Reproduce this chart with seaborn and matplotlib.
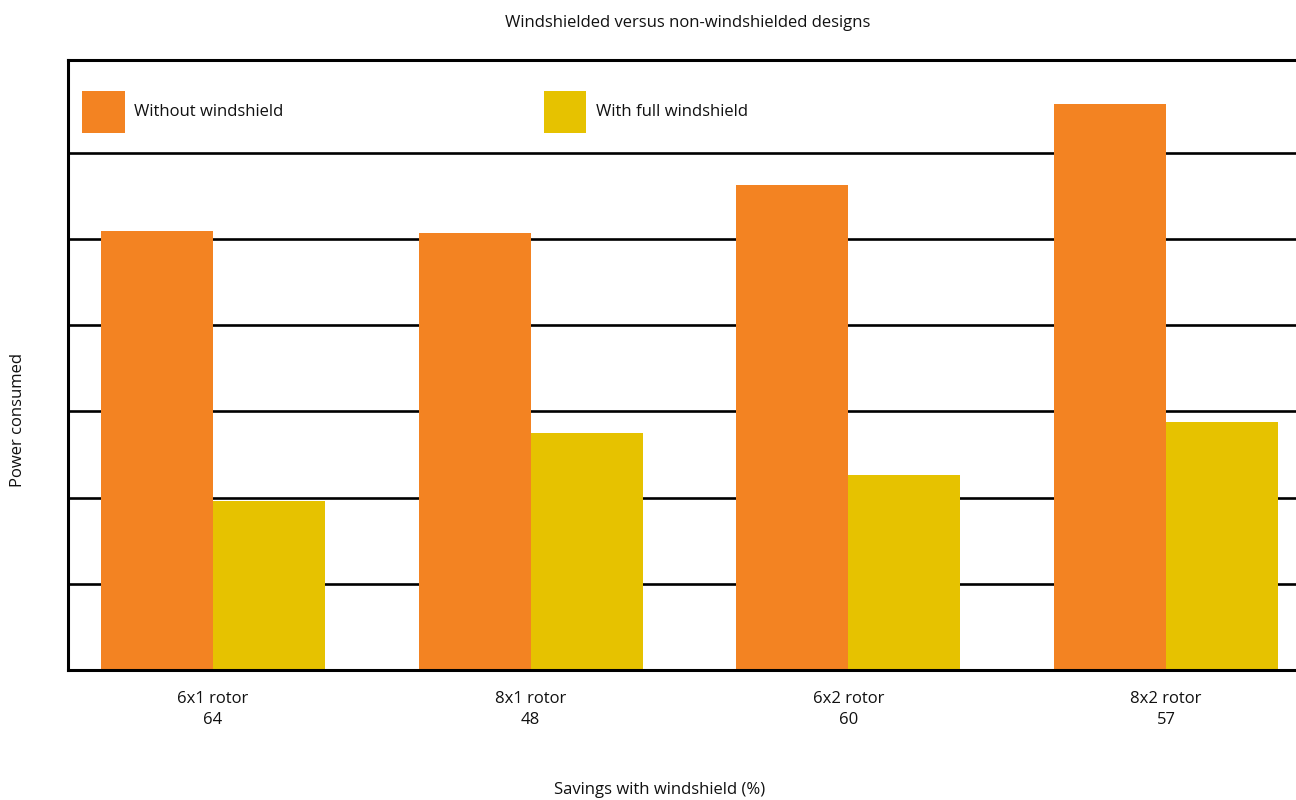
import matplotlib
matplotlib.use("Agg")
import matplotlib.pyplot as plt
from matplotlib.legend import Legend
import seaborn as sns
import pandas as pd

# Chart data
rotors = ["6x1 rotor", "8x1 rotor", "6x2 rotor", "8x2 rotor"]
savings_pct = [64, 48, 60, 57]
without_shield = [5.09, 5.07, 5.63, 6.57]
with_shield = [1.96, 2.75, 2.26, 2.88]
series_names = ["Without windshield", "With full windshield"]
series_colors = ["#F38322", "#E6C200"]

df = pd.DataFrame({
    "rotor": rotors * 2,
    "power": without_shield + with_shield,
    "design": [series_names[0]] * len(rotors) + [series_names[1]] * len(rotors),
})

sns.set_style("white")
plt.rcParams["font.family"] = ["Open Sans", "DejaVu Sans"]
plt.rcParams["font.size"] = 12
text_color = "#111111"

W, H = 1296, 800
fig = plt.figure(figsize=(W / 100, H / 100), dpi=100)
ax = fig.add_axes([68 / W, 130 / H, 1243 / W, 610 / H])

sns.barplot(data=df, x="rotor", y="power", hue="design", order=rotors,
            hue_order=series_names, palette=series_colors, width=0.705,
            saturation=1, linewidth=0, edgecolor="none", ax=ax, legend=True)

ax.set_xlim(-0.456, 3.456)
ax.set_ylim(0, 7.077)
ax.set_yticks([1, 2, 3, 4, 5, 6])
ax.set_yticklabels([])
ax.yaxis.grid(True, color="black", linewidth=1.9)
ax.xaxis.grid(False)
ax.set_axisbelow(True)

ax.set_xticks(range(len(rotors)))
ax.set_xticklabels([f"{r}\n{s}" for r, s in zip(rotors, savings_pct)],
                   linespacing=1.4, fontsize=12, color=text_color)
ax.tick_params(axis="both", length=0)
ax.tick_params(axis="x", pad=15)

for side in ["left", "bottom", "top"]:
    ax.spines[side].set_visible(True)
    ax.spines[side].set_color("black")
    ax.spines[side].set_linewidth(2.2)
ax.spines["right"].set_visible(False)

ax.set_xlabel("")
ax.set_ylabel("")
fig.text(660 / W, 1 - 790 / H, "Savings with windshield (%)",
         ha="center", va="center", fontsize=12, color=text_color)
fig.text(18 / W, 1 - 420 / H, "Power consumed", rotation=90,
         ha="center", va="center", fontsize=12, color=text_color)
fig.text(688 / W, 1 - 23 / H, "Windshielded versus non-windshielded designs",
         ha="center", va="center", fontsize=12, color=text_color)

# Two separate legend entries placed in the top band of the plot
handles, labels = ax.get_legend_handles_labels()
ax.get_legend().remove()
anchors = [(82 - 68) / 1243, (544 - 68) / 1243]
for h, lab, xa in zip(handles, labels, anchors):
    leg = Legend(ax, [h], [lab], loc="center left", bbox_to_anchor=(xa, 0.915),
                 frameon=False, borderpad=0, borderaxespad=0,
                 handlelength=2.55, handleheight=3.55, handletextpad=0.55,
                 fontsize=12, labelcolor=text_color)
    ax.add_artist(leg)

fig.savefig("out.png", dpi=100)
